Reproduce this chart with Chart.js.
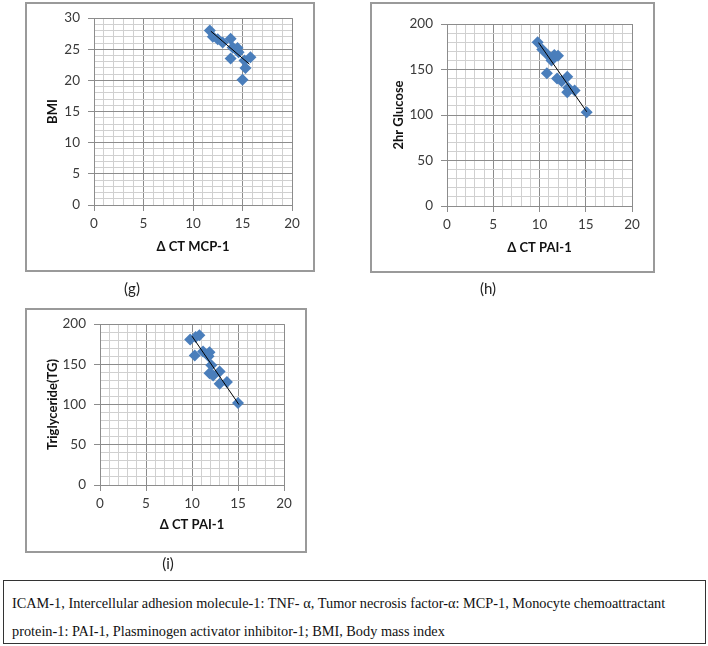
<!DOCTYPE html>
<html>
<head>
<meta charset="utf-8">
<script src="https://cdn.jsdelivr.net/npm/chart.js@4.4.1/dist/chart.umd.min.js"></script>
<style>
  body { margin: 0; background: #fff; }
  .box { position: absolute; box-sizing: border-box; border: 2px solid #9a9a9a; pointer-events: none; }
  .cv { position: absolute; }
  .lab { position: absolute; font-family: Lato, sans-serif; font-size: 15px; color: #222; transform: translate(-50%, -50%); }
  .note { position: absolute; left: 3px; top: 580px; width: 703px; height: 64px; box-sizing: border-box;
          border: 1.5px solid #333; font-family: "Liberation Serif", serif; font-size: 14.3px; line-height: 28px;
          padding: 8px 0 0 8px; color: #111; white-space: nowrap; }
</style>
</head>
<body>
<canvas id="chartG" class="cv" style="left:25px;top:2px" width="290" height="270"></canvas>
<div class="box" style="left:25px;top:2px;width:290px;height:270px"></div>
<canvas id="chartH" class="cv" style="left:370px;top:2px" width="285" height="271"></canvas>
<div class="box" style="left:370px;top:2px;width:285px;height:271px"></div>
<canvas id="chartI" class="cv" style="left:25px;top:308px" width="282" height="245"></canvas>
<div class="box" style="left:25px;top:308px;width:282px;height:245px"></div>
<div class="lab" style="left:132px;top:288px">(g)</div>
<div class="lab" style="left:488px;top:288px">(h)</div>
<div class="lab" style="left:168px;top:563px">(i)</div>
<div class="note">ICAM-1, Intercellular adhesion molecule-1: TNF- α, Tumor necrosis factor-α: MCP-1, Monocyte chemoattractant<br>protein-1: PAI-1, Plasminogen activator inhibitor-1; BMI, Body mass index</div>
<script>
// (g) BMI vs delta CT MCP-1
var gX = [11.7, 12.0, 12.5, 13.0, 13.8, 14.0, 14.5, 14.6, 13.8, 15.2, 15.8, 15.3, 15.0];
var gY = [28.0, 27.0, 26.6, 26.1, 26.7, 25.3, 25.2, 24.5, 23.5, 23.2, 23.7, 22.0, 20.1];
var gTrendX = [11.8, 15.7];
var gTrendY = [27.9, 22.6];

// (h) 2hr glucose vs delta CT PAI-1
var hX = [9.8, 10.3, 10.9, 11.6, 12.0, 11.3, 10.8, 11.9, 12.4, 13.0, 13.1, 13.0, 13.8, 15.1];
var hY = [180, 172, 166, 166, 165, 160, 146, 140, 137, 142, 130, 125, 127, 103];
var hTrendX = [9.9, 15.1];
var hTrendY = [179.5, 103.6];

// (i) triglyceride vs delta CT PAI-1
var iX = [9.8, 10.4, 10.8, 10.3, 11.2, 11.9, 11.8, 12.1, 11.9, 12.3, 13.0, 13.0, 13.8, 15.0];
var iY = [181, 184, 186, 161, 166, 165, 160, 149, 139, 136, 141, 126, 128, 102];
var iTrendX = [10.0, 15.1];
var iTrendY = [185, 100];

var xTickLabels = [0, 5, 10, 15, 20];

Chart.defaults.font.family = 'Lato, sans-serif';
Chart.defaults.animation = false;

var MAJOR = '#8c8c8c';
var MINOR = '#d0d0d0';

function pts(xs, ys) {
  return xs.map(function (x, k) { return { x: x, y: ys[k] }; });
}

function makePanel(id, xs, ys, tx, ty, o) {
  var isMajor = function (v, step) { return Math.abs(v / step - Math.round(v / step)) < 1e-6; };
  new Chart(document.getElementById(id).getContext('2d'), {
    type: 'scatter',
    data: {
      datasets: [{
        type: 'line',
        data: pts(tx, ty),
        borderColor: '#000',
        borderWidth: 1,
        pointRadius: 0,
        fill: false
      }, {
        data: pts(xs, ys),
        pointStyle: 'rectRot',
        pointRadius: 6,
        backgroundColor: '#4A7EBB',
        borderColor: '#4A7EBB',
        borderWidth: 0
      }]
    },
    options: {
      responsive: false,
      layout: { padding: o.pad },
      plugins: { legend: { display: false }, tooltip: { enabled: false } },
      scales: {
        x: {
          min: 0, max: 20,
          afterFit: function (s) { s.height = o.xH; },
          ticks: {
            stepSize: 1, autoSkip: false, maxRotation: 0, padding: 5,
            color: '#3a3a3a', font: { size: 13.5 },
            callback: function (v) { return xTickLabels.indexOf(v) >= 0 ? v : ''; }
          },
          grid: {
            tickLength: 6,
            color: function (c) { return isMajor(c.tick.value, 5) ? MAJOR : MINOR; },
            tickColor: function (c) { return isMajor(c.tick.value, 5) ? MAJOR : 'rgba(0,0,0,0)'; }
          },
          border: { color: MAJOR },
          title: { display: true, text: o.xTitle, color: '#111', font: { size: 13, weight: 'bold' } }
        },
        y: {
          min: 0, max: o.yMax,
          afterFit: function (s) { s.width = o.yW; },
          ticks: {
            stepSize: o.yStep, autoSkip: false, padding: 8,
            color: '#3a3a3a', font: { size: 13.5 },
            callback: function (v) { return isMajor(v, o.yMajor) ? v : ''; }
          },
          grid: {
            tickLength: 6,
            color: function (c) { return isMajor(c.tick.value, o.yMajor) ? MAJOR : MINOR; },
            tickColor: function (c) { return isMajor(c.tick.value, o.yMajor) ? MAJOR : 'rgba(0,0,0,0)'; }
          },
          border: { color: MAJOR },
          title: { display: true, text: o.yTitle, color: '#111', font: { size: 13, weight: 'bold' } }
        }
      }
    }
  });
}

makePanel('chartG', gX, gY, gTrendX, gTrendY, {
  yMax: 30, yStep: 1, yMajor: 5, xTitle: 'Δ CT MCP-1', yTitle: 'BMI',
  pad: { left: 16, right: 23, top: 16, bottom: 13 }, yW: 53, xH: 54
});
makePanel('chartH', hX, hY, hTrendX, hTrendY, {
  yMax: 200, yStep: 10, yMajor: 50, xTitle: 'Δ CT PAI-1', yTitle: '2hr Glucose',
  pad: { left: 17, right: 23, top: 22, bottom: 13 }, yW: 60, xH: 54
});
makePanel('chartI', iX, iY, iTrendX, iTrendY, {
  yMax: 200, yStep: 10, yMajor: 50, xTitle: 'Δ CT PAI-1', yTitle: 'Triglyceride(TG)',
  pad: { left: 16, right: 23, top: 16, bottom: 16 }, yW: 59, xH: 52
});
</script>
</body>
</html>
